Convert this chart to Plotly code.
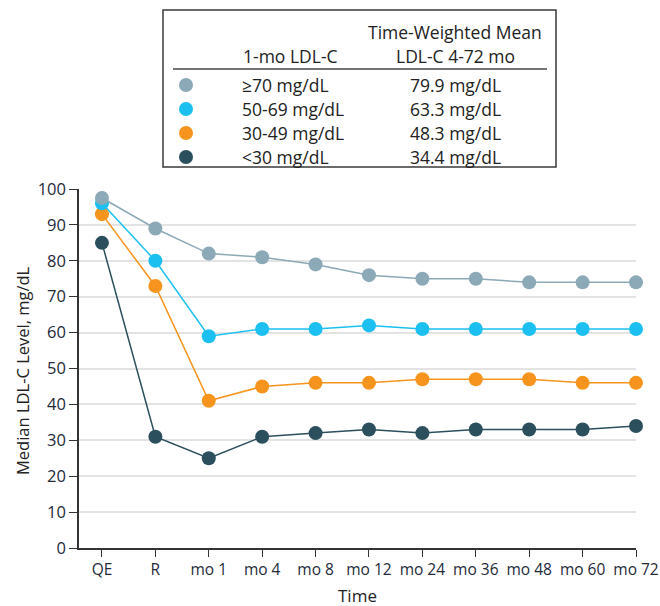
import plotly.graph_objects as go

categories = ["QE", "R", "mo 1", "mo 4", "mo 8", "mo 12", "mo 24", "mo 36", "mo 48", "mo 60", "mo 72"]
series_names = ["≥70 mg/dL", "50-69 mg/dL", "30-49 mg/dL", "<30 mg/dL"]
weighted_means = ["79.9 mg/dL", "63.3 mg/dL", "48.3 mg/dL", "34.4 mg/dL"]
ge70 = [97.5, 89, 82, 81, 79, 76, 75, 75, 74, 74, 74]
s50_69 = [96, 80, 59, 61, 61, 62, 61, 61, 61, 61, 61]
s30_49 = [93, 73, 41, 45, 46, 46, 47, 47, 47, 46, 46]
lt30 = [85, 31, 25, 31, 32, 33, 32, 33, 33, 33, 34]
yticks = [0, 10, 20, 30, 40, 50, 60, 70, 80, 90, 100]

colors = ["#8ba9b6", "#1cc0f0", "#f7941d", "#2b4f5c"]
series = [ge70, s50_69, s30_49, lt30]

FONT = "Open Sans, Liberation Sans, sans-serif"
TXT = "#222"

# the page body margin is removed (post_script), so the figure fills the 660x606 window
OFF = 0
W, H = 660, 606
ML = 79 - OFF
MT = 189 - OFF
MB = (OFF + H) - 548
MR = (OFF + W) - 636
PW = W - ML - MR
PH = H - MT - MB

def px(xw):
    return (xw - OFF - ML) / PW

def py(yw):
    return (OFF + H - MB - yw) / PH

fig = go.Figure()
xs = list(range(len(categories)))
for name, vals, c in list(zip(series_names, series, colors))[::-1]:
    fig.add_trace(go.Scatter(
        x=xs, y=vals, mode="lines+markers", name=name,
        line=dict(color=c, width=1.5),
        marker=dict(color=c, size=14, line=dict(width=0)),
        showlegend=False, cliponaxis=False,
    ))

shapes = []
annotations = []
shapes.append(dict(type="rect", xref="paper", yref="paper",
                   x0=px(163), x1=px(556), y0=py(167), y1=py(10),
                   line=dict(color="#3a3a3a", width=1.5), fillcolor="white"))
shapes.append(dict(type="line", xref="paper", yref="paper",
                   x0=px(173), x1=px(547), y0=py(69), y1=py(69),
                   line=dict(color="#444444", width=1.5)))
LF = 17.5
annotations.append(dict(xref="paper", yref="paper", x=px(455), y=py(32), text="Time-Weighted Mean",
                        showarrow=False, xanchor="center", yanchor="middle",
                        font=dict(size=LF, color=TXT, family=FONT)))
annotations.append(dict(xref="paper", yref="paper", x=px(455), y=py(56), text="LDL-C 4-72 mo",
                        showarrow=False, xanchor="center", yanchor="middle",
                        font=dict(size=LF, color=TXT, family=FONT)))
annotations.append(dict(xref="paper", yref="paper", x=px(241), y=py(56), text="1-mo LDL-C",
                        showarrow=False, xanchor="left", yanchor="middle",
                        font=dict(size=LF, color=TXT, family=FONT)))
row_y = [85, 109, 133, 157]
for name, wm, c, ry in zip(series_names, weighted_means, colors, row_y):
    shapes.append(dict(type="circle", xref="paper", yref="paper",
                       xsizemode="pixel", ysizemode="pixel",
                       xanchor=px(186), yanchor=py(ry),
                       x0=-7, x1=7, y0=-7, y1=7,
                       fillcolor=c, line=dict(width=0)))
    annotations.append(dict(xref="paper", yref="paper", x=px(240), y=py(ry), text=name,
                            showarrow=False, xanchor="left", yanchor="middle",
                            font=dict(size=LF, color=TXT, family=FONT)))
    annotations.append(dict(xref="paper", yref="paper", x=px(455), y=py(ry), text=wm,
                            showarrow=False, xanchor="center", yanchor="middle",
                            font=dict(size=LF, color=TXT, family=FONT)))
# x-axis title
annotations.append(dict(xref="paper", yref="paper", x=px(357), y=py(595), text="Time",
                        showarrow=False, xanchor="center", yanchor="middle",
                        font=dict(size=17, color=TXT, family=FONT)))
# y-axis title
annotations.append(dict(xref="paper", yref="paper", x=px(22), y=py(371), text="Median LDL-C Level, mg/dL",
                        showarrow=False, xanchor="center", yanchor="middle", textangle=-90,
                        font=dict(size=16.5, color=TXT, family=FONT)))

fig.update_layout(
    width=W, height=H,
    margin=dict(l=ML, r=MR, t=MT, b=MB),
    paper_bgcolor="white", plot_bgcolor="white",
    font=dict(family=FONT, size=16, color=TXT),
    shapes=shapes, annotations=annotations,
    showlegend=False,
)
fig.update_xaxes(
    range=[-0.43, 10], tickmode="array", tickvals=xs, ticktext=categories,
    showgrid=False, zeroline=False, showline=True, linecolor="#333", linewidth=1.5,
    ticks="outside", ticklen=7, tickcolor="#333", tickwidth=1.2,
    tickfont=dict(size=15.5, color="#242a3a", family=FONT),
    automargin=False, ticklabeloverflow="allow",
)
fig.update_yaxes(
    range=[0, 100], tickvals=yticks,
    showgrid=True, gridcolor="#e3e3e3", gridwidth=1.5, zeroline=False,
    showline=True, linecolor="#333", linewidth=1.5,
    ticks="outside", ticklen=8, tickcolor="#333", tickwidth=1.2,
    tickfont=dict(size=16.5, color="#242a3a", family=FONT),
    automargin=False, ticklabeloverflow="allow",
)
fig.write_html("out.html", config={"displayModeBar": False},
               post_script="document.body.style.margin='0';document.body.style.overflow='hidden';")
